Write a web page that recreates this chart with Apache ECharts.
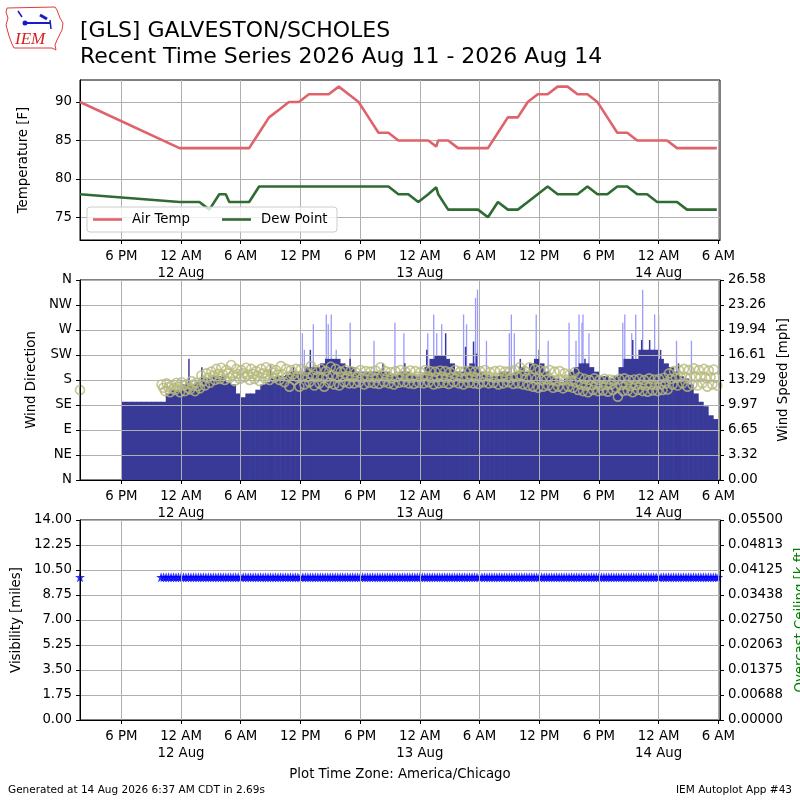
<!DOCTYPE html>
<html>
<head>
<meta charset="utf-8">
<script src="https://cdn.jsdelivr.net/npm/echarts@6.0.0/dist/echarts.min.js"></script>
<style>
  html, body { margin: 0; padding: 0; background: #fff; }
  #chart { width: 800px; height: 800px; }
</style>
</head>
<body>
<div id="chart"></div>
<script>
// hours counted from 2026-08-11 00:00 America/Chicago
var obsHours = [13.85, 23.85, 24.85, 25.85, 26.85, 27.85, 28.5, 28.85, 29.85, 30.85,
  31.85, 32.85, 33.85, 34.85, 35.85, 36.85, 37.85, 38.85, 39.85, 40.85,
  41.85, 42.85, 43.85, 44.85, 45.85, 46.85, 47.85, 48.85, 49.65, 49.85,
  50.85, 51.85, 52.85, 53.85, 54.85, 55.85, 56.85, 57.85, 58.85, 59.85,
  60.85, 61.85, 62.85, 63.85, 64.85, 65.85, 66.85, 67.85, 68.85, 69.85,
  70.85, 71.85, 72.85, 73.85, 74.85, 75.85, 76.85, 77.85];
var tempF = [90, 84, 84, 84, 84, 84, 84, 84, 84, 84,
  86, 88, 89, 90, 90, 91, 91, 91, 92, 91,
  90, 88, 86, 86, 85, 85, 85, 85, 84.2, 85,
  85, 84, 84, 84, 84, 86, 88, 88, 90, 91,
  91, 92, 92, 91, 91, 90, 88, 86, 86, 85,
  85, 85, 85, 84, 84, 84, 84, 84];
var dewF = [78, 77, 77, 77, 76, 78, 78, 77, 77, 77,
  79, 79, 79, 79, 79, 79, 79, 79, 79, 79,
  79, 79, 79, 79, 78, 78, 77, 78, 78.9, 78,
  76, 76, 76, 76, 75, 77, 76, 76, 77, 78,
  79, 78, 78, 78, 79, 78, 78, 79, 79, 78,
  78, 77, 77, 77, 76, 76, 76, 76];

// wind speed [mph], half-hour bins starting at hour 18.0
var speedStart = 18.0;
var speedMph = [10.4, 10.4, 10.4, 10.4, 10.4, 10.4, 10.4, 10.4, 10.4, 11.5,
  12.0, 12.0, 12.7, 13.0, 12.7, 13.0, 13.5, 13.5, 13.8, 13.8,
  13.8, 13.0, 12.7, 11.5, 11.0, 11.5, 11.5, 12.0, 12.7, 13.0,
  13.5, 13.8, 13.8, 14.0, 14.4, 14.4, 14.4, 15.0, 15.0, 15.0,
  15.5, 16.1, 16.1, 16.1, 15.5, 15.0, 15.0, 14.4, 14.4, 14.4,
  14.4, 14.4, 14.4, 14.4, 14.0, 14.0, 14.4, 14.4, 14.0, 13.8,
  14.0, 15.0, 16.1, 16.6, 16.6, 16.1, 15.5, 14.4, 14.4, 15.0,
  15.5, 15.0, 14.4, 14.0, 13.8, 13.8, 14.4, 14.4, 14.0, 14.4,
  15.0, 14.4, 15.5, 16.1, 15.5, 14.4, 13.8, 13.5, 13.0, 13.5,
  14.4, 15.0, 15.5, 15.5, 15.0, 14.4, 13.8, 13.8, 13.5, 13.8,
  15.0, 16.1, 16.1, 16.1, 17.3, 17.3, 17.3, 17.3, 16.1, 15.5,
  15.0, 14.4, 13.8, 13.5, 12.7, 11.5, 10.4, 9.8, 8.6, 8.1];

// short-lived peaks in sustained wind
var peakHours = [24.8, 26.1, 33.0, 35.3, 37.0, 41.0, 44.3, 46.5, 48.7, 50.6,
  52.6, 53.4, 53.7, 58.1, 60.0, 64.6, 69.4, 70.3, 71.1, 72.2, 74.0];
var peakMph = [16.1, 15.0, 15.3, 15.0, 17.3, 16.1, 15.5, 15.5, 17.3, 19.5,
  17.7, 18.4, 16.8, 16.1, 17.3, 16.1, 18.6, 18.6, 18.6, 17.3, 15.5];

// gusts
var gustHours = [36.2, 36.4, 37.3, 38.6, 38.8, 39.1, 39.6, 41.0, 43.4, 45.5,
  46.4, 48.8, 49.4, 49.7, 50.2, 52.4, 52.7, 53.6, 53.8, 54.7,
  57.0, 57.2, 57.5, 59.7, 60.9, 63.0, 63.7, 64.0, 64.3, 64.4,
  65.0, 68.4, 68.6, 69.3, 69.7, 70.4, 71.6, 72.0, 73.8, 75.3];
var gustMph = [19.5, 17.3, 20.7, 22.0, 20.7, 22.0, 17.3, 20.9, 18.5, 20.9,
  19.5, 19.5, 22.0, 19.5, 20.7, 22.0, 20.7, 24.2, 25.3, 18.5,
  19.5, 22.0, 19.5, 22.0, 18.5, 20.9, 18.5, 22.0, 20.9, 22.0,
  19.5, 20.9, 22.0, 19.5, 22.0, 25.3, 22.0, 22.0, 18.5, 18.5];

// wind direction [deg]: upper edge, middle and lower edge of the spread, half-hour bins from hour 22.0
var dirStart = 22.0;
var dirFirst = [13.85, 162];
var dirHigh = [172, 174, 170, 175, 176, 172, 178, 175,
  188, 192, 195,
  200, 202, 198, 207, 200, 198, 202, 200, 196, 200, 203, 200, 198, 205, 200, 198, 200,
  200, 196, 205, 198, 200, 196, 204, 200, 195, 198,
  196, 194, 198, 196, 195, 197, 203, 196, 194, 196, 198, 195, 197, 196, 194, 198, 196, 195,
  197, 196, 194, 198, 195, 196, 197, 195, 196, 198, 194, 196, 197, 195, 196, 198, 203, 196,
  203, 200, 198, 196, 198, 195, 196, 192, 190,
  194, 185, 182, 180, 183, 180, 182, 181, 180, 182, 183, 180, 181, 182, 180, 183, 181, 182, 184,
  192, 196, 198, 200, 198, 201, 198, 200, 197, 199];
var dirMid = [166, 167, 165, 168, 170, 166, 170, 169,
  178, 184, 188,
  191, 190, 192, 189, 191, 192, 190, 191, 187, 192, 190, 193, 189, 190, 186, 190, 185,
  186, 185, 188, 186, 184, 186, 188, 185, 186, 187,
  185, 186, 184, 186, 185, 184, 188, 185, 183, 186, 187, 185, 184, 186, 185, 187, 184, 185,
  186, 184, 185, 187, 184, 185, 186, 184, 185, 187, 185, 184, 186, 185, 184, 186, 188, 184,
  184, 182, 180, 181, 180, 178, 180, 181, 178,
  176, 172, 170, 171, 172, 170, 171, 172, 166, 171, 172, 169, 171, 172, 170, 172, 171, 172, 174,
  182, 184, 186, 184, 185, 186, 186, 184, 185, 184];
var dirLow = [160, 158, 162, 158, 160, 163, 160, 165,
  170, 175, 180,
  182, 180, 184, 178, 182, 185, 180, 182, 178, 183, 180, 184, 180, 176, 168, 180, 168,
  172, 176, 170, 174, 168, 175, 172, 170, 176, 174,
  174, 176, 172, 175, 174, 173, 176, 174, 172, 175, 176, 174, 173, 175, 174, 176, 172, 174,
  175, 173, 176, 174, 172, 175, 174, 173, 176, 174, 175, 172, 174, 176, 173, 174, 172, 170,
  168, 166, 168, 170, 166, 168, 165, 168, 166,
  162, 160, 158, 162, 160, 161, 159, 162, 150, 160, 161, 158, 162, 160, 159, 161, 160, 162, 163,
  172, 170, 174, 168, 172, 170, 174, 168, 172, 170];

// visibility [miles]: one report at 13.85 h, then quarter-hourly from 22.0 h to 78.0 h
var visStart = 22.0;
var visFirst = [13.85, 10];
var visMiles = [10, 10, 10, 10, 10, 10, 10, 10, 10, 10, 10, 10, 10, 10, 10, 10, 10, 10, 10, 10, 10, 10, 10, 10, 10,
  10, 10, 10, 10, 10, 10, 10, 10, 10, 10, 10, 10, 10, 10, 10, 10, 10, 10, 10, 10, 10, 10, 10, 10, 10,
  10, 10, 10, 10, 10, 10, 10, 10, 10, 10, 10, 10, 10, 10, 10, 10, 10, 10, 10, 10, 10, 10, 10, 10, 10,
  10, 10, 10, 10, 10, 10, 10, 10, 10, 10, 10, 10, 10, 10, 10, 10, 10, 10, 10, 10, 10, 10, 10, 10, 10,
  10, 10, 10, 10, 10, 10, 10, 10, 10, 10, 10, 10, 10, 10, 10, 10, 10, 10, 10, 10, 10, 10, 10, 10, 10,
  10, 10, 10, 10, 10, 10, 10, 10, 10, 10, 10, 10, 10, 10, 10, 10, 10, 10, 10, 10, 10, 10, 10, 10, 10,
  10, 10, 10, 10, 10, 10, 10, 10, 10, 10, 10, 10, 10, 10, 10, 10, 10, 10, 10, 10, 10, 10, 10, 10, 10,
  10, 10, 10, 10, 10, 10, 10, 10, 10, 10, 10, 10, 10, 10, 10, 10, 10, 10, 10, 10, 10, 10, 10, 10, 10,
  10, 10, 10, 10, 10, 10, 10, 10, 10, 10, 10, 10, 10, 10, 10, 10, 10, 10, 10, 10, 10, 10, 10, 10, 10];

var timeTicks = [18, 24, 30, 36, 42, 48, 54, 60, 66, 72, 78];
var dirLabels = ['N', 'NE', 'E', 'SE', 'S', 'SW', 'W', 'NW', 'N'];
var speedLabels = ['0.00', '3.32', '6.65', '9.97', '13.29', '16.61', '19.94', '23.26', '26.58'];
var visLabels = ['0.00', '1.75', '3.50', '5.25', '7.00', '8.75', '10.50', '12.25', '14.00'];
var ceilLabels = ['0.00000', '0.00688', '0.01375', '0.02063', '0.02750', '0.03438', '0.04125', '0.04813', '0.05500'];

var chart = echarts.init(document.getElementById('chart'));

var FONT = 'DejaVu Sans';
var FS = 13.3;
var tMin = 13.85, tMax = 78.17;
var gridColor = '#b0b0b0';

function hourLabel(v) {
  var h = ((Math.round(v) % 24) + 24) % 24;
  var s;
  if (h === 0) s = '12 AM\n' + (11 + Math.round(v) / 24) + ' Aug';
  else if (h < 12) s = h + ' AM';
  else if (h === 12) s = '12 PM';
  else s = (h - 12) + ' PM';
  return s;
}

function pairs(xs, ys) {
  return xs.map(function (x, i) { return [x, ys[i]]; });
}
function binned(start, step, ys, off) {
  return ys.map(function (y, i) { return [start + i * step + off, y]; });
}

// gridlines sit above bars and markers in panels 2 and 3 (as in the original)
function timeAxis(gridIndex, visible, z) {
  return {
    type: 'value', gridIndex: gridIndex, min: tMin, max: tMax, show: visible, z: z,
    axisLine: { show: true, lineStyle: { color: '#000' } },
    axisTick: { show: true, customValues: timeTicks, length: 4, lineStyle: { color: '#000' } },
    axisLabel: { customValues: timeTicks, formatter: hourLabel, color: '#000', fontSize: FS,
      fontFamily: FONT, margin: 8, lineHeight: 17 },
    splitLine: { show: true, lineStyle: { color: gridColor, width: 1 } }
  };
}

var axisName = { color: '#000', fontSize: FS, fontFamily: FONT };
var yLabel = { color: '#000', fontSize: FS, fontFamily: FONT, margin: 8 };
var yTick = { show: true, length: 4, lineStyle: { color: '#000' } };
var yLine = { show: true, lineStyle: { color: '#000' } };

var starPath = 'path://M0,-10 L2.35,-3.24 L9.51,-3.09 L3.8,1.24 L5.88,8.09 L0,4 L-5.88,8.09 L-3.8,1.24 L-9.51,-3.09 L-2.35,-3.24 Z';

function panel(top, height) {
  return { left: 80, top: top, width: 640, height: height, show: true, borderColor: '#000', borderWidth: 1,
    backgroundColor: 'transparent', outerBoundsMode: 'none', containLabel: false };
}

var option = {
  animation: false,
  textStyle: { fontFamily: FONT },
  grid: [panel(80, 160), panel(280, 200), panel(520, 200)],
  xAxis: [
    timeAxis(0, true, 0),
    timeAxis(1, true, 5),
    timeAxis(2, true, 5),
    timeAxis(1, false, 0),
    timeAxis(1, false, 0)
  ],
  yAxis: [
    { type: 'value', gridIndex: 0, min: 72.05, max: 92.86,
      name: 'Temperature [F]', nameLocation: 'middle', nameGap: 50, nameTextStyle: axisName,
      axisLine: yLine, axisTick: { show: true, length: 4, lineStyle: { color: '#000' }, customValues: [75, 80, 85, 90] },
      axisLabel: Object.assign({ customValues: [75, 80, 85, 90] }, yLabel),
      splitLine: { show: true, lineStyle: { color: gridColor } } },
    { type: 'value', gridIndex: 1, min: 0, max: 360, interval: 45, z: 5,
      name: 'Wind Direction', nameLocation: 'middle', nameGap: 40, nameTextStyle: axisName,
      axisLine: yLine, axisTick: yTick,
      axisLabel: Object.assign({ formatter: function (v) { return dirLabels[Math.round(v / 45)]; } }, yLabel),
      splitLine: { show: true, lineStyle: { color: gridColor } } },
    { type: 'value', gridIndex: 1, position: 'right', min: 0, max: 26.58, interval: 3.3225, z: 5,
      name: 'Wind Speed [mph]', nameLocation: 'middle', nameGap: 55, nameRotate: 90, nameTextStyle: axisName,
      axisLine: yLine, axisTick: yTick,
      axisLabel: Object.assign({ formatter: function (v) { return speedLabels[Math.round(v / 3.3225)]; } }, yLabel),
      splitLine: { show: false } },
    { type: 'value', gridIndex: 2, min: 0, max: 14, interval: 1.75, z: 5,
      name: 'Visibility [miles]', nameLocation: 'middle', nameGap: 56, nameTextStyle: axisName,
      axisLine: yLine, axisTick: yTick,
      axisLabel: Object.assign({ formatter: function (v) { return visLabels[Math.round(v / 1.75)]; } }, yLabel),
      splitLine: { show: true, lineStyle: { color: gridColor } } },
    { type: 'value', gridIndex: 2, position: 'right', min: 0, max: 0.055, interval: 0.006875, z: 5,
      name: 'Overcast Ceiling [k ft]', nameLocation: 'middle', nameGap: 74, nameRotate: 90,
      nameTextStyle: { color: '#008000', fontSize: FS, fontFamily: FONT },
      axisLine: yLine, axisTick: yTick,
      axisLabel: Object.assign({ formatter: function (v) { return ceilLabels[Math.round(v / 0.006875)]; } }, yLabel),
      splitLine: { show: false } }
  ],
  series: [
    { name: 'Air Temp', type: 'line', xAxisIndex: 0, yAxisIndex: 0, data: pairs(obsHours, tempF),
      showSymbol: false, lineStyle: { color: '#e0626b', width: 2.6 }, itemStyle: { color: '#e0626b' } },
    { name: 'Dew Point', type: 'line', xAxisIndex: 0, yAxisIndex: 0, data: pairs(obsHours, dewF),
      showSymbol: false, lineStyle: { color: '#2f6b33', width: 2.6 }, itemStyle: { color: '#2f6b33' } },
    { name: 'Gust', type: 'bar', xAxisIndex: 1, yAxisIndex: 2, data: pairs(gustHours, gustMph), clip: true,
      barWidth: 1.3, itemStyle: { color: '#9a9aff' } },
    { name: 'Speed', type: 'bar', xAxisIndex: 3, yAxisIndex: 2, data: binned(speedStart, 0.5, speedMph, 0.25), clip: true,
      barWidth: 5.6, itemStyle: { color: '#393998' } },
    { name: 'Peak', type: 'bar', xAxisIndex: 4, yAxisIndex: 2, data: pairs(peakHours, peakMph), clip: true,
      barWidth: 1.5, itemStyle: { color: '#393998' } },
    { name: 'Direction', type: 'scatter', xAxisIndex: 1, yAxisIndex: 1,
      data: [dirFirst].concat(binned(dirStart, 0.5, dirHigh, 0.05), binned(dirStart, 0.5, dirMid, 0.22),
        binned(dirStart, 0.5, dirLow, 0.4)),
      symbol: 'circle', symbolSize: 9,
      itemStyle: { color: 'rgba(0,0,0,0)', borderColor: '#b6b97a', borderWidth: 1.6 } },
    { name: 'Visibility', type: 'scatter', xAxisIndex: 2, yAxisIndex: 3,
      data: [visFirst].concat(binned(visStart, 0.25, visMiles, 0)),
      symbol: starPath, symbolSize: 10, itemStyle: { color: '#0000ff' } }
  ],
  graphic: [
    // IEM logo
    { type: 'polyline', z: 100, shape: { points: [[7, 8], [55, 7], [57, 10], [60, 18], [63, 23], [62, 30], [59, 36], [57, 40],
      [55, 45], [56, 50], [52, 48], [14, 48], [12, 44], [9, 36], [6, 25], [8, 18], [6, 12], [7, 8]] },
      style: { stroke: '#e03a3a', lineWidth: 1, fill: null } },
    { type: 'line', z: 100, shape: { x1: 23, y1: 23, x2: 50, y2: 23 }, style: { stroke: '#1a1acc', lineWidth: 2 } },
    { type: 'circle', z: 100, shape: { cx: 25, cy: 23, r: 2.5 }, style: { fill: '#1a1acc' } },
    { type: 'line', z: 100, shape: { x1: 18, y1: 11, x2: 22, y2: 17 }, style: { stroke: '#1a1acc', lineWidth: 1.5 } },
    { type: 'line', z: 100, shape: { x1: 40, y1: 15, x2: 47, y2: 19 }, style: { stroke: '#1a1acc', lineWidth: 3 } },
    { type: 'line', z: 100, shape: { x1: 50, y1: 20, x2: 51, y2: 29 }, style: { stroke: '#1a1acc', lineWidth: 1.5 } },
    { type: 'text', z: 100, left: 15, top: 31, style: { text: 'IEM', fill: '#d42020',
      font: 'italic 17px "Liberation Serif"' } },
    // titles
    { type: 'text', z: 100, left: 80, top: 20, style: { text: '[GLS] GALVESTON/SCHOLES', fill: '#000',
      font: '22px "DejaVu Sans"' } },
    { type: 'text', z: 100, left: 80, top: 46, style: { text: 'Recent Time Series 2026 Aug 11 - 2026 Aug 14', fill: '#000',
      font: '22px "DejaVu Sans"' } },
    // legend
    { type: 'rect', z: 100, shape: { x: 87, y: 207, width: 250, height: 25, r: 3 },
      style: { fill: 'rgba(255,255,255,0.8)', stroke: '#cccccc', lineWidth: 1 } },
    { type: 'line', z: 101, shape: { x1: 93, y1: 219.5, x2: 122, y2: 219.5 }, style: { stroke: '#e0626b', lineWidth: 2.6 } },
    { type: 'text', z: 101, x: 132, y: 219.5, style: { text: 'Air Temp', fill: '#000', font: '13.3px "DejaVu Sans"',
      verticalAlign: 'middle' } },
    { type: 'line', z: 101, shape: { x1: 222, y1: 219.5, x2: 251, y2: 219.5 }, style: { stroke: '#2f6b33', lineWidth: 2.6 } },
    { type: 'text', z: 101, x: 261, y: 219.5, style: { text: 'Dew Point', fill: '#000', font: '13.3px "DejaVu Sans"',
      verticalAlign: 'middle' } },
    // footer
    { type: 'text', z: 100, x: 400, y: 775, style: { text: 'Plot Time Zone: America/Chicago', fill: '#000',
      font: '13.3px "DejaVu Sans"', align: 'center', verticalAlign: 'middle' } },
    { type: 'text', z: 100, x: 8, y: 790, style: { text: 'Generated at 14 Aug 2026 6:37 AM CDT in 2.69s', fill: '#000',
      font: '10.5px "DejaVu Sans"', verticalAlign: 'middle' } },
    { type: 'text', z: 100, x: 792, y: 790, style: { text: 'IEM Autoplot App #43', fill: '#000',
      font: '10.5px "DejaVu Sans"', align: 'right', verticalAlign: 'middle' } }
  ]
};

chart.setOption(option);
</script>
</body>
</html>
